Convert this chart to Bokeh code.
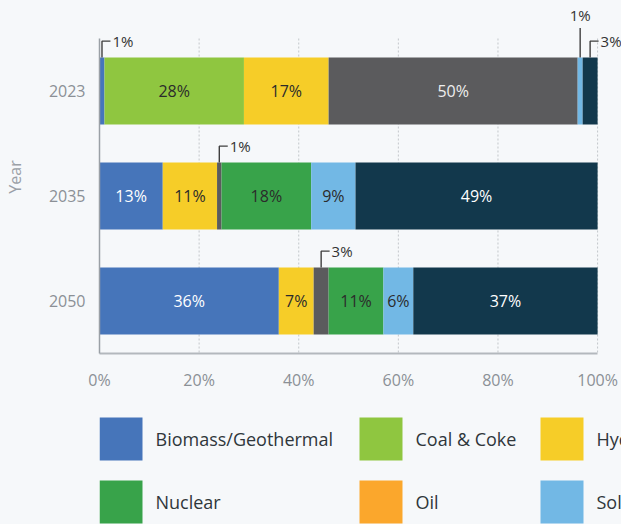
from bokeh.plotting import figure
from bokeh.models import Range1d, FixedTicker, ColumnDataSource
from bokeh.layouts import column
from bokeh.core.properties import value
from bokeh.embed import file_html
from bokeh.resources import INLINE

# ---------------- data ----------------
years = ["2023", "2035", "2050"]
source_names = ["Biomass/Geothermal", "Coal & Coke", "Hydro", "Natural Gas",
                "Nuclear", "Oil", "Solar", "Wind"]
biomass = [1.0, 12.7, 36.0]
coal = [28.0, 0.0, 0.0]
hydro = [17.0, 10.9, 7.0]
natural_gas = [50.0, 0.9, 3.0]
nuclear = [0.0, 18.0, 11.0]
oil = [0.0, 0.0, 0.0]
solar = [1.0, 8.9, 6.0]
wind = [3.0, 48.6, 37.0]
x_ticks = [0, 20, 40, 60, 80, 100]

# ---------------- style ----------------
FONT = "Open Sans"
BG = "#f6f8fa"
colors = ["#4675ba", "#8fc640", "#f6cd28", "#5b5b5d", "#38a34a", "#fba72c", "#72b8e5", "#12384c"]
label_colors = ["#ffffff", "#2b2b2b", "#2b2b2b", "#eeeeee", "#2b2b2b", "#2b2b2b", "#2b2b2b", "#ffffff"]
keys = ["biomass", "coal", "hydro", "gas", "nuclear", "oil", "solar", "wind"]
series = [biomass, coal, hydro, natural_gas, nuclear, oil, solar, wind]

BAR_H = 0.64
SMALL = 4.0
LEFT = 99

p = figure(width=621, height=395, x_range=Range1d(0, 104.8), y_range=Range1d(2.5, -0.862),
           output_backend="svg", toolbar_location=None,
           min_border_left=LEFT, min_border_right=0, min_border_top=0, min_border_bottom=42,
           background_fill_color=BG, border_fill_color=BG, outline_line_color=None)
p.xgrid.visible = False
p.ygrid.visible = False

# dotted vertical grid lines
gx = [t for t in x_ticks if t > 0]
p.segment(x0=gx, y0=[-0.5] * len(gx), x1=gx, y1=[2.5] * len(gx),
          line_color="#c3c7cb", line_width=1, line_dash="2 2")

ypos = list(range(len(years)))
data = {"y": ypos}
for k, s in zip(keys, series):
    data[k] = s
src = ColumnDataSource(data)
p.hbar_stack(keys, y="y", height=BAR_H, fill_color=colors, line_color=None, source=src)

# labels and callouts
in_x, in_y, in_t, in_c = [], [], [], []
el_xs, el_ys, el_tx, el_ty, el_t = [], [], [], [], []
hi_x0, hi_y0, hi_y1, hi_tx, hi_ty, hi_t = [], [], [], [], [], []
RISE, RUN = 0.155, 1.7
for yi in ypos:
    left = 0.0
    row = [s[yi] for s in series]
    for si, v in enumerate(row):
        if v <= 0:
            continue
        c = left + v / 2.0
        lab = f"{round(v)}%"
        top = yi - BAR_H / 2.0
        if v >= SMALL:
            in_x.append(c); in_y.append(yi); in_t.append(lab); in_c.append(label_colors[si])
        else:
            nxt = [w for w in row[si + 1:] if w > 0]
            if nxt and nxt[0] < SMALL:
                hi_x0.append(c); hi_y0.append(top); hi_y1.append(top - 0.28)
                hi_tx.append(c); hi_ty.append(top - 0.40); hi_t.append(lab)
            else:
                el_xs.append([c, c, c + RUN]); el_ys.append([top, top - RISE, top - RISE])
                el_tx.append(c + RUN + 0.4); el_ty.append(top - RISE); el_t.append(lab)
        left += v

p.text(x=in_x, y=in_y, text=in_t, text_color=in_c, text_align="center", text_baseline="middle",
       text_font=value(FONT), text_font_size="16px")
p.multi_line(xs=el_xs, ys=el_ys, line_color="#3f3f3f", line_width=1.4)
p.text(x=el_tx, y=el_ty, text=el_t, text_color="#333333", text_align="left", text_baseline="middle",
       text_font=value(FONT), text_font_size="15px")
p.segment(x0=hi_x0, y0=hi_y0, x1=hi_x0, y1=hi_y1, line_color="#3f3f3f", line_width=1.4)
p.text(x=hi_tx, y=hi_ty, text=hi_t, text_color="#333333", text_align="center", text_baseline="middle",
       text_font=value(FONT), text_font_size="15px")

# axes
p.xaxis.ticker = FixedTicker(ticks=x_ticks)
p.xaxis.major_label_overrides = {t: f"{t}%" for t in x_ticks}
p.xaxis.bounds = (0, 100)
p.xaxis.axis_line_color = "#b3b8bd"
p.xaxis.axis_line_width = 2
p.xaxis.major_tick_line_color = None
p.xaxis.minor_tick_line_color = None
p.xaxis.major_label_standoff = 9
p.xaxis.major_label_text_color = "#8b9096"
p.xaxis.major_label_text_font = FONT
p.xaxis.major_label_text_font_size = "16px"

p.yaxis.ticker = FixedTicker(ticks=ypos)
p.yaxis.major_label_overrides = {i: y for i, y in zip(ypos, years)}
p.yaxis.bounds = (-0.5, 2.5)
p.yaxis.axis_line_color = "#9aa0a6"
p.yaxis.axis_line_width = 1.5
p.yaxis.major_tick_line_color = None
p.yaxis.minor_tick_line_color = None
p.yaxis.major_label_standoff = 8
p.yaxis.major_label_text_color = "#8b9096"
p.yaxis.major_label_text_font = FONT
p.yaxis.major_label_text_font_size = "16px"
p.yaxis.axis_label = "Year"
p.yaxis.axis_label_standoff = 20
p.yaxis.axis_label_text_color = "#9aa0a6"
p.yaxis.axis_label_text_font = FONT
p.yaxis.axis_label_text_font_size = "16px"
p.yaxis.axis_label_text_font_style = "normal"

# ---------------- legend (separate panel, frame aligned with the chart) ----------------
LEG_H = 129
col_x = [99, 359, 540, 690]
row_y = [22, 85]
SQ = 43
NCOL = 4
lg = figure(width=621, height=LEG_H, x_range=Range1d(LEFT, 621), y_range=Range1d(LEG_H, 0),
            output_backend="svg", toolbar_location=None,
            min_border_left=LEFT, min_border_right=0, min_border_top=0, min_border_bottom=0,
            x_axis_location=None, y_axis_location=None,
            background_fill_color=BG, border_fill_color=BG, outline_line_color=None)
lg.xgrid.visible = False
lg.ygrid.visible = False
lx = [col_x[i % NCOL] for i in range(len(source_names))]
ly = [row_y[i // NCOL] for i in range(len(source_names))]
lg.quad(left=lx, right=[x + SQ for x in lx], top=ly, bottom=[y + SQ for y in ly],
        fill_color=colors, line_color=None)
lg.text(x=[x + SQ + 13 for x in lx], y=[y + SQ / 2 for y in ly], text=source_names,
        text_color="#2f363b", text_baseline="middle", text_align="left",
        text_font=value(FONT), text_font_size="18px")

layout = column(p, lg, spacing=0, styles={"background-color": BG})
html = file_html(layout, INLINE)
html = html.replace("<head>", "<head><style>html, body { background: %s; margin: 0; }</style>" % BG, 1)
open("out.html", "w").write(html)
